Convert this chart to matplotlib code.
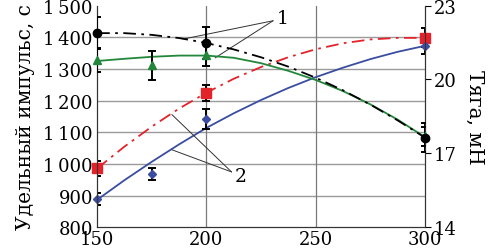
import numpy as np
import matplotlib
matplotlib.use('Agg')
import matplotlib.pyplot as plt
from matplotlib.ticker import FuncFormatter

plt.rcParams['font.family'] = ['DejaVu Serif']

# Measured points
x_red = [150, 200, 300]
isp_red = [986, 1225, 1398]
err_red = [23, 25, 30]

x_blue = [150, 175, 200, 300]
isp_blue = [890, 969, 1142, 1373]
err_blue = [20, 20, 30, 25]

x_black = [150, 200, 300]
thr_black = [21.88, 21.48, 17.64]
err_black = [0.64, 0.64, 0.58]

x_green = [150, 175, 200, 300]
thr_green = [20.78, 20.57, 21.01, 17.70]
err_green = [0.49, 0.60, 0.45, 0.39]

# Trend lines
x_trend = [150, 162.5, 175, 187.5, 200, 212.5, 225, 237.5, 250, 262.5, 275, 287.5, 300]
trend_red = [986, 1055, 1118, 1175, 1225, 1269, 1306, 1337, 1362, 1381, 1393, 1398, 1398]
trend_blue = [887, 949, 1007, 1062, 1114, 1160, 1202, 1240, 1274, 1304, 1331, 1354, 1373]
trend_black = [21.88, 21.88, 21.81, 21.68, 21.48, 21.22, 20.90, 20.52, 20.07, 19.56, 18.98, 18.34, 17.64]
trend_green = [20.75, 20.84, 20.92, 20.97, 20.97, 20.88, 20.66, 20.35, 19.98, 19.53, 18.99, 18.37, 17.66]

x_ticks = [150, 200, 250, 300]
isp_ticks = [800, 900, 1000, 1100, 1200, 1300, 1400, 1500]
thr_ticks = [14, 17, 20, 23]

RED = '#e3222a'
BLUE = '#3a4da0'
GREEN = '#22873a'
FS = 13

fig = plt.figure(figsize=(4.88, 2.51), dpi=100)
ax = fig.add_axes([0.199, 0.09, 0.672, 0.884])
ax2 = ax.twinx()

# grid
ax.set_xlim(150, 300)
ax.set_ylim(800, 1500)
ax2.set_ylim(14, 23)
for v in isp_ticks[1:-1]:
    ax.axhline(v, color='#9a9a9a', lw=1.0, zorder=0)
for v in x_ticks[1:-1]:
    ax.axvline(v, color='#7a7a7a', lw=0.9, zorder=0)

# specific impulse (left)
ax.plot(x_trend, trend_red, color=RED, lw=1.3, ls=(0, (7, 3, 1.5, 3)), zorder=3)
ax.plot(x_trend, trend_blue, color=BLUE, lw=1.3, zorder=3)
ax.errorbar(x_red, isp_red, yerr=err_red, fmt='none', ecolor='black',
            elinewidth=1.4, capsize=3, capthick=1.4, zorder=4)
ax.errorbar(x_blue, isp_blue, yerr=err_blue, fmt='none', ecolor='black',
            elinewidth=1.4, capsize=3, capthick=1.4, zorder=4)
ax.plot(x_red, isp_red, 's', color=RED, ms=6.5, zorder=5, clip_on=False)
ax.plot(x_blue, isp_blue, 'D', color=BLUE, ms=4.5, zorder=5, clip_on=False)

# thrust (right)
ax2.plot(x_trend, trend_green, color=GREEN, lw=1.3, zorder=3)
ax2.plot(x_trend, trend_black, color='black', lw=1.3, ls=(0, (7, 3, 1.5, 3)), zorder=3)
ax2.errorbar(x_black, thr_black, yerr=err_black, fmt='none', ecolor='black',
             elinewidth=1.4, capsize=3, capthick=1.4, zorder=4)
ax2.errorbar(x_green, thr_green, yerr=err_green, fmt='none', ecolor='black',
             elinewidth=1.4, capsize=3, capthick=1.4, zorder=4)
ax2.plot(x_green, thr_green, '^', color=GREEN, ms=6, zorder=5, clip_on=False)
ax2.plot(x_black, thr_black, 'o', color='black', ms=6, zorder=6, clip_on=False)

# labels 1 and 2
line_kw = dict(arrowstyle='-', color='#333333', lw=0.7, shrinkA=0, shrinkB=0)
ax.annotate('', xy=(190, 1395), xytext=(230.5, 1452), arrowprops=line_kw, zorder=7)
ax.annotate('', xy=(204, 1335), xytext=(230.5, 1452), arrowprops=line_kw, zorder=7)
ax.text(235, 1462, '1', fontsize=FS + 0.5, ha='center', va='center', zorder=7)
ax.annotate('', xy=(184.2, 1156), xytext=(211.5, 975), arrowprops=line_kw, zorder=7)
ax.annotate('', xy=(184.2, 1045), xytext=(211.5, 975), arrowprops=line_kw, zorder=7)
ax.text(215.5, 961, '2', fontsize=FS + 0.5, ha='center', va='center', zorder=7)

# axes styling
ax.set_xticks(x_ticks)
ax.set_yticks(isp_ticks)
ax.yaxis.set_major_formatter(FuncFormatter(
    lambda v, p: f'{int(v):,}'.replace(',', '\u2009') if v >= 1000 else f'{int(v)}'))
ax.tick_params(axis='both', length=0, labelsize=FS, pad=3)
ax.tick_params(axis='x', pad=2)
ax2.set_yticks(thr_ticks)
ax2.tick_params(axis='y', length=4, width=0.8, labelsize=FS, pad=2)
for lbl in ax.get_yticklabels() + ax2.get_yticklabels():
    lbl.set_verticalalignment('center_baseline')

for a in (ax, ax2):
    a.spines['top'].set_visible(False)
    a.spines['left'].set_color('#333333')
    a.spines['bottom'].set_color('#333333')
    a.spines['right'].set_color('#333333')
ax2.patch.set_visible(False)

ax.set_ylabel('Удельный импульс, с', fontsize=14.5, labelpad=6)
ax2.set_ylabel('Тяга, мН', fontsize=14.5, rotation=270, ha='center', va='center')
ax2.yaxis.set_label_coords(1.15, 0.5)

fig.savefig('out.png', dpi=100)
